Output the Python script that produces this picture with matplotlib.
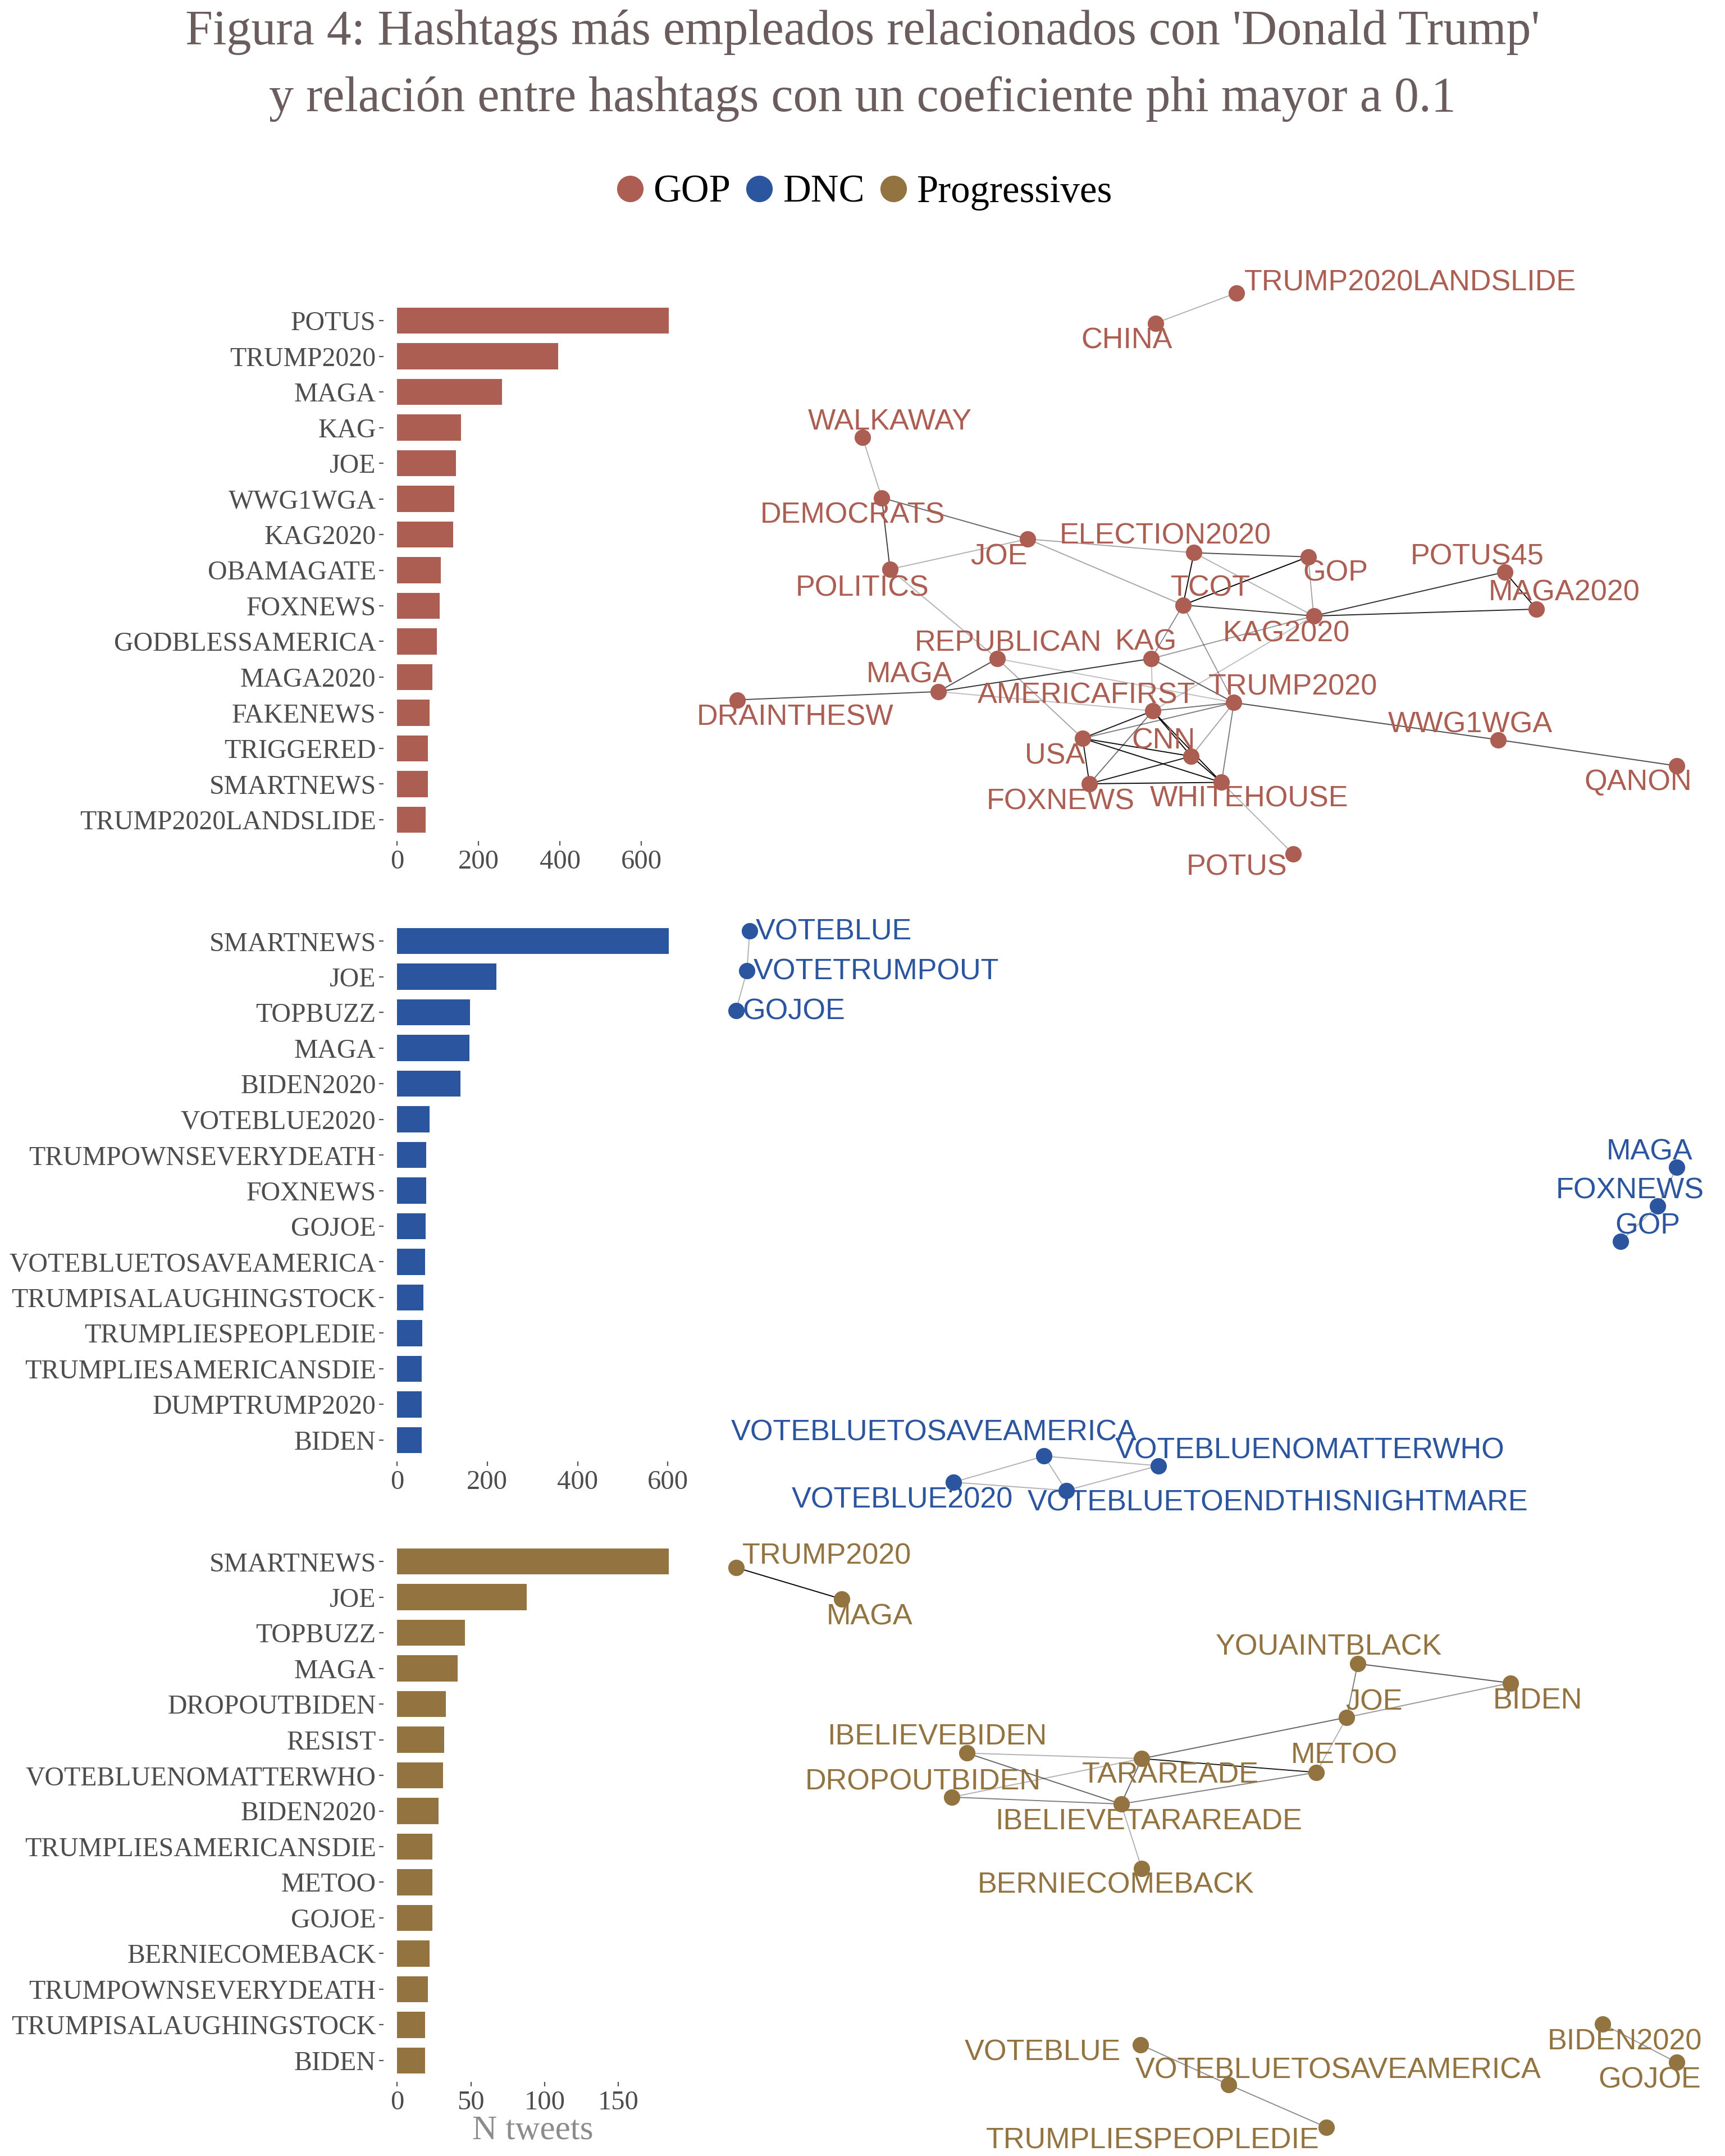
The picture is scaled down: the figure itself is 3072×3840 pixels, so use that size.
import matplotlib
matplotlib.use("Agg")
import matplotlib.pyplot as plt
from matplotlib.lines import Line2D

# ---------------- data ----------------
gop_tags = ["POTUS", "TRUMP2020", "MAGA", "KAG", "JOE", "WWG1WGA", "KAG2020", "OBAMAGATE",
            "FOXNEWS", "GODBLESSAMERICA", "MAGA2020", "FAKENEWS", "TRIGGERED", "SMARTNEWS",
            "TRUMP2020LANDSLIDE"]
gop_counts = [667, 395, 257, 157, 144, 141, 138, 107, 104, 97, 87, 80, 76, 76, 70]

dnc_tags = ["SMARTNEWS", "JOE", "TOPBUZZ", "MAGA", "BIDEN2020", "VOTEBLUE2020",
            "TRUMPOWNSEVERYDEATH", "FOXNEWS", "GOJOE", "VOTEBLUETOSAVEAMERICA",
            "TRUMPISALAUGHINGSTOCK", "TRUMPLIESPEOPLEDIE", "TRUMPLIESAMERICANSDIE",
            "DUMPTRUMP2020", "BIDEN"]
dnc_counts = [602, 220, 162, 160, 141, 72, 64, 64, 63, 62, 58, 56, 55, 54, 54]

prog_tags = ["SMARTNEWS", "JOE", "TOPBUZZ", "MAGA", "DROPOUTBIDEN", "RESIST",
             "VOTEBLUENOMATTERWHO", "BIDEN2020", "TRUMPLIESAMERICANSDIE", "METOO", "GOJOE",
             "BERNIECOMEBACK", "TRUMPOWNSEVERYDEATH", "TRUMPISALAUGHINGSTOCK", "BIDEN"]
prog_counts = [184, 88, 46, 41, 33, 32, 31, 28, 24, 24, 24, 22, 21, 19, 19]

gop_ticks = [0, 200, 400, 600]
dnc_ticks = [0, 200, 400, 600]
prog_ticks = [0, 50, 100, 150]

groups = ["GOP", "DNC", "Progressives"]
group_colors = ["#AD5E52", "#2C55A0", "#93733F"]

# network layouts (layout units), label anchor points, and edges with phi-based alpha
gop_nodes = ["TRUMP2020LANDSLIDE", "CHINA", "WALKAWAY", "DEMOCRATS", "POLITICS", "JOE",
             "ELECTION2020", "GOP", "TCOT", "POTUS45", "MAGA2020", "KAG2020", "KAG",
             "REPUBLICAN", "MAGA", "DRAINTHESW", "AMERICAFIRST", "TRUMP2020", "WWG1WGA",
             "QANON", "USA", "CNN", "FOXNEWS", "WHITEHOUSE", "POTUS"]
gop_x = [899, 840, 627, 641, 647, 747, 868, 951, 860, 1094, 1117, 955, 837, 725, 682, 536,
         838, 897, 1089, 1219, 787, 866, 792, 888, 940]
gop_y = [213, 235, 318, 362, 414, 392, 402, 405, 440, 416, 443, 448, 479, 479, 503, 509,
         517, 511, 538, 557, 537, 550, 570, 569, 621]
gop_lx = [1025, 819, 647, 620, 627, 726, 847, 971, 880, 1074, 1137, 935, 833, 733, 661, 578,
          790, 940, 1069, 1191, 767, 846, 771, 908, 899]
gop_ly = [206, 248, 307, 375, 428, 405, 390, 417, 428, 405, 431, 461, 467, 468, 491, 522,
          506, 500, 527, 569, 550, 539, 583, 581, 631]
gop_edges = [("CHINA", "TRUMP2020LANDSLIDE", 0.3), ("WALKAWAY", "DEMOCRATS", 0.3),
             ("DEMOCRATS", "POLITICS", 0.75), ("DEMOCRATS", "JOE", 0.6),
             ("JOE", "POLITICS", 0.3), ("JOE", "ELECTION2020", 0.35), ("JOE", "TCOT", 0.35),
             ("ELECTION2020", "GOP", 0.7), ("ELECTION2020", "TCOT", 0.95),
             ("ELECTION2020", "KAG2020", 0.3), ("GOP", "TCOT", 1.0), ("GOP", "KAG2020", 0.35),
             ("TCOT", "KAG2020", 0.75), ("TCOT", "KAG", 0.45), ("TCOT", "TRUMP2020", 0.4),
             ("KAG2020", "POTUS45", 0.8), ("KAG2020", "MAGA2020", 0.85),
             ("POTUS45", "MAGA2020", 0.95), ("KAG2020", "KAG", 0.4),
             ("KAG2020", "AMERICAFIRST", 0.25), ("POLITICS", "REPUBLICAN", 0.3),
             ("REPUBLICAN", "MAGA", 0.7), ("REPUBLICAN", "TRUMP2020", 0.25),
             ("REPUBLICAN", "USA", 0.35), ("MAGA", "DRAINTHESW", 0.7),
             ("MAGA", "AMERICAFIRST", 0.25), ("MAGA", "KAG", 0.8),
             ("KAG", "AMERICAFIRST", 0.25), ("KAG", "TRUMP2020", 0.65),
             ("AMERICAFIRST", "TRUMP2020", 0.55), ("AMERICAFIRST", "USA", 0.9),
             ("AMERICAFIRST", "CNN", 0.95), ("AMERICAFIRST", "WHITEHOUSE", 0.95),
             ("AMERICAFIRST", "FOXNEWS", 0.55), ("TRUMP2020", "USA", 0.5),
             ("TRUMP2020", "CNN", 0.35), ("TRUMP2020", "WHITEHOUSE", 0.5),
             ("TRUMP2020", "WWG1WGA", 0.7), ("WWG1WGA", "QANON", 0.7),
             ("USA", "CNN", 0.95), ("USA", "WHITEHOUSE", 0.95), ("USA", "FOXNEWS", 0.9),
             ("FOXNEWS", "CNN", 0.9), ("FOXNEWS", "WHITEHOUSE", 0.95),
             ("CNN", "WHITEHOUSE", 0.95), ("WHITEHOUSE", "POTUS", 0.3)]

dnc_nodes = ["VOTEBLUE", "VOTETRUMPOUT", "GOJOE", "MAGA", "FOXNEWS", "GOP",
             "VOTEBLUETOSAVEAMERICA", "VOTEBLUENOMATTERWHO", "VOTEBLUE2020",
             "VOTEBLUETOENDTHISNIGHTMARE"]
dnc_x = [545, 543, 535, 1219, 1205, 1178, 759, 842, 693, 775]
dnc_y = [677, 706, 735, 849, 877, 903, 1059, 1066, 1078, 1084]
dnc_lx = [606, 637, 577, 1199, 1185, 1198, 679, 952, 656, 929]
dnc_ly = [678, 707, 736, 838, 866, 892, 1042, 1055, 1091, 1093]
dnc_edges = [("VOTEBLUE", "VOTETRUMPOUT", 0.3), ("VOTETRUMPOUT", "GOJOE", 0.3),
             ("MAGA", "FOXNEWS", 0.3), ("FOXNEWS", "GOP", 0.3),
             ("VOTEBLUETOSAVEAMERICA", "VOTEBLUENOMATTERWHO", 0.3),
             ("VOTEBLUETOSAVEAMERICA", "VOTEBLUE2020", 0.3),
             ("VOTEBLUETOSAVEAMERICA", "VOTEBLUETOENDTHISNIGHTMARE", 0.3),
             ("VOTEBLUE2020", "VOTEBLUETOENDTHISNIGHTMARE", 0.3),
             ("VOTEBLUETOENDTHISNIGHTMARE", "VOTEBLUENOMATTERWHO", 0.3)]

prog_nodes = ["TRUMP2020", "MAGA", "YOUAINTBLACK", "BIDEN", "JOE", "IBELIEVEBIDEN",
              "TARAREADE", "METOO", "DROPOUTBIDEN", "IBELIEVETARAREADE", "BERNIECOMEBACK",
              "VOTEBLUE", "VOTEBLUETOSAVEAMERICA", "TRUMPLIESPEOPLEDIE", "BIDEN2020", "GOJOE"]
prog_x = [535, 612, 987, 1098, 979, 703, 830, 957, 692, 815, 830, 829, 893, 964, 1165, 1219]
prog_y = [1140, 1163, 1210, 1224, 1249, 1275, 1279, 1289, 1307, 1312, 1359, 1487, 1516, 1547,
          1472, 1500]
prog_lx = [601, 632, 966, 1118, 999, 681, 851, 977, 671, 835, 811, 758, 973, 838, 1181, 1199]
prog_ly = [1132, 1176, 1198, 1237, 1238, 1263, 1291, 1277, 1296, 1325, 1371, 1493, 1506, 1557,
           1485, 1513]
prog_edges = [("TRUMP2020", "MAGA", 1.0), ("YOUAINTBLACK", "BIDEN", 0.65),
              ("YOUAINTBLACK", "JOE", 0.5), ("JOE", "BIDEN", 0.4), ("JOE", "TARAREADE", 0.6),
              ("JOE", "METOO", 0.3), ("IBELIEVEBIDEN", "TARAREADE", 0.3),
              ("IBELIEVEBIDEN", "IBELIEVETARAREADE", 0.6), ("TARAREADE", "METOO", 0.9),
              ("TARAREADE", "DROPOUTBIDEN", 0.3), ("TARAREADE", "IBELIEVETARAREADE", 0.6),
              ("DROPOUTBIDEN", "IBELIEVETARAREADE", 0.5), ("IBELIEVETARAREADE", "METOO", 0.5),
              ("IBELIEVETARAREADE", "BERNIECOMEBACK", 0.3),
              ("VOTEBLUE", "VOTEBLUETOSAVEAMERICA", 0.45),
              ("VOTEBLUETOSAVEAMERICA", "TRUMPLIESPEOPLEDIE", 0.45),
              ("BIDEN2020", "GOJOE", 0.4)]

title_lines = ["Figura 4: Hashtags más empleados relacionados con 'Donald Trump'",
               "y relación entre hashtags con un coeficiente phi mayor a 0.1"]
xlabel = "N tweets"

# ---------------- figure ----------------
SERIF = ["Liberation Serif", "DejaVu Serif"]
SANS = ["Liberation Sans", "DejaVu Sans"]
W, H = 3072, 3840
DPI = 200
fig = plt.figure(figsize=(W / DPI, H / DPI), dpi=DPI)
fig.patch.set_facecolor("white")

title_color = "#6B5D5D"
fig.text(0.5, 1 - 58 / H, title_lines[0], ha="center", va="center", fontsize=31.7,
         family=SERIF, color=title_color)
fig.text(0.5, 1 - 176 / H, title_lines[1], ha="center", va="center", fontsize=31.7,
         family=SERIF, color=title_color)

handles = [Line2D([], [], marker="o", linestyle="", markersize=16, color=c) for c in group_colors]
fig.legend(handles, groups, loc="center", bbox_to_anchor=(0.501, 1 - 343 / H), ncol=3,
           frameon=False, handlelength=0.7, handletextpad=0.25, columnspacing=0.4,
           borderaxespad=0, borderpad=0, prop={"family": SERIF, "size": 24.8})

# bar panels (pixel geometry of the reference)
panel_left, panel_right = 683, 1215
panel_tops = [533, 1638, 2743]
panel_bottoms = [1498, 2603, 3708]
bar_sets = [(gop_tags, gop_counts, gop_ticks), (dnc_tags, dnc_counts, dnc_ticks),
            (prog_tags, prog_counts, prog_ticks)]
text_grey = "#4D4D4D"
for i, (tags, counts, ticks) in enumerate(bar_sets):
    ax = fig.add_axes([panel_left / W, 1 - panel_bottoms[i] / H,
                       (panel_right - panel_left) / W, (panel_bottoms[i] - panel_tops[i]) / H])
    n = len(tags)
    ax.barh(range(n), counts, height=0.73, color=group_colors[i])
    m = max(counts)
    ax.set_xlim(-0.05 * m, 1.05 * m)
    ax.set_ylim(n - 1 + 0.6, -0.6)
    ax.set_yticks(range(n))
    ax.set_yticklabels(tags, family=SERIF, fontsize=17.2, color=text_grey)
    ax.set_xticks(ticks)
    ax.set_xticklabels([str(t) for t in ticks], family=SERIF, fontsize=17.5, color=text_grey)
    ax.tick_params(axis="both", length=3, width=0.8, color="#555555", pad=2.5)
    ax.tick_params(axis="y", pad=1.8)
    for s in ax.spines.values():
        s.set_visible(False)
    ax.set_facecolor("none")
    if i == 2:
        ax.set_xlabel(xlabel, family=SERIF, fontsize=22, color="#8C8C8C", labelpad=0)

# network panels
net = fig.add_axes([489 / 1254, 0, 1 - 489 / 1254, 1])
net.set_xlim(489, 1254)
net.set_ylim(1568, 0)
net.axis("off")
net.set_facecolor("none")

networks = [(gop_nodes, gop_x, gop_y, gop_lx, gop_ly, gop_edges),
            (dnc_nodes, dnc_x, dnc_y, dnc_lx, dnc_ly, dnc_edges),
            (prog_nodes, prog_x, prog_y, prog_lx, prog_ly, prog_edges)]
for i, (nodes, xs, ys, lxs, lys, edges) in enumerate(networks):
    pos = {nm: (x, y) for nm, x, y in zip(nodes, xs, ys)}
    for a, b, alpha in sorted(edges, key=lambda e: e[2]):
        (x0, y0), (x1, y1) = pos[a], pos[b]
        net.plot([x0, x1], [y0, y1], color="black", alpha=alpha, linewidth=0.7,
                 solid_capstyle="round", zorder=1)
    net.plot(xs, ys, linestyle="", marker="o", markersize=9.5, color=group_colors[i],
             zorder=2)
    for nm, lx, ly in zip(nodes, lxs, lys):
        net.text(lx, ly, nm, ha="center", va="center", fontsize=18.8, family=SANS,
                 color=group_colors[i], zorder=3)

fig.savefig("out.png", dpi=DPI, facecolor="white")
